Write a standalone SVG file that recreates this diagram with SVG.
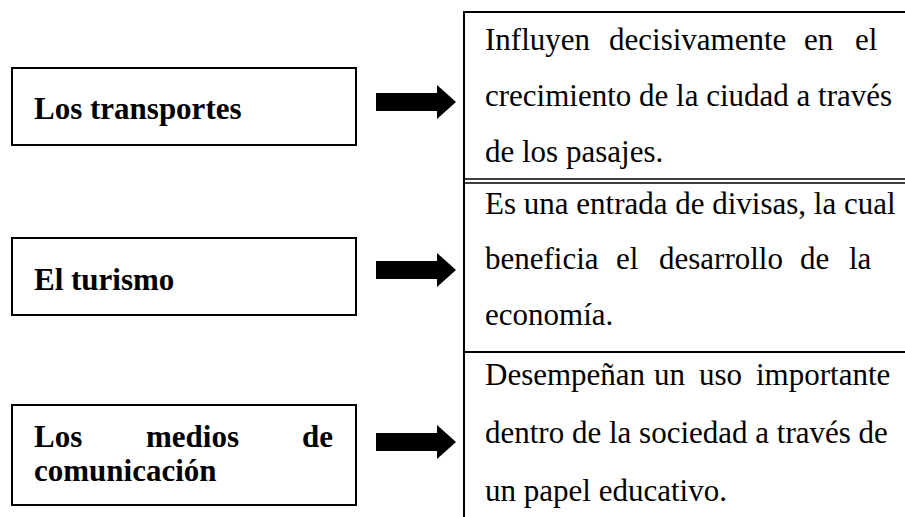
<svg xmlns="http://www.w3.org/2000/svg" width="905" height="517" viewBox="0 0 905 517">
<defs>
<style>
.box{fill:#fff;stroke:#000;stroke-width:2}
.lt{font-family:"Liberation Serif","Times New Roman",serif;font-size:31px;font-weight:bold;fill:#000}
.rt{font-family:"Liberation Serif","Times New Roman",serif;font-size:31px;fill:#000}
.ln{stroke:#000;stroke-width:2;fill:none}
.ln2{stroke:#000;stroke-width:1.5;fill:none}
.arr{fill:#000}
</style>
</defs>
<rect width="905" height="517" fill="#fff"/>
<g id="node-transportes">
<rect class="box" x="12" y="68" width="344" height="77"/>
<text class="lt" x="34" y="119">Los transportes</text>
</g>
<g id="node-turismo">
<rect class="box" x="12" y="238" width="344" height="77"/>
<text class="lt" x="34" y="290">El turismo</text>
</g>
<g id="node-medios">
<rect class="box" x="12" y="405" width="344" height="100"/>
<text class="lt" y="447"><tspan x="34">Los</tspan><tspan x="146">medios</tspan><tspan x="302">de</tspan></text>
<text class="lt" x="34" y="481">comunicación</text>
</g>
<g id="node-table">
<path class="ln" d="M464 12H905M464 11V517M464 352H905"/>
<path class="ln2" d="M464 179H905M464 183H905"/>
</g>
<g id="node-cell1">
<text class="rt" y="50"><tspan x="485">Influyen</tspan><tspan x="609">decisivamente</tspan><tspan x="804">en</tspan><tspan x="855">el</tspan></text>
<text class="rt" x="485" y="106">crecimiento de la ciudad a través</text>
<text class="rt" x="485" y="162">de los pasajes.</text>
</g>
<g id="node-cell2">
<text class="rt" x="485" y="214">Es una entrada de divisas, la cual</text>
<text class="rt" y="269"><tspan x="485">beneficia</tspan><tspan x="616">el</tspan><tspan x="659">desarrollo</tspan><tspan x="800">de</tspan><tspan x="849">la</tspan></text>
<text class="rt" x="485" y="325">economía.</text>
</g>
<g id="node-cell3">
<text class="rt" y="385"><tspan x="485">Desempeñan</tspan><tspan x="654">un</tspan><tspan x="699">uso</tspan><tspan x="756">importante</tspan></text>
<text class="rt" x="485" y="443">dentro de la sociedad a través de</text>
<text class="rt" x="485" y="501">un papel educativo.</text>
</g>
<g id="connectors">
<path class="arr" d="M376 93H437V85L456 102L437 119V111H376Z"/>
<path class="arr" d="M376 261H437V253L456 270L437 287V279H376Z"/>
<path class="arr" d="M376 433H437V425L456 442L437 459V451H376Z"/>
</g>
</svg>
